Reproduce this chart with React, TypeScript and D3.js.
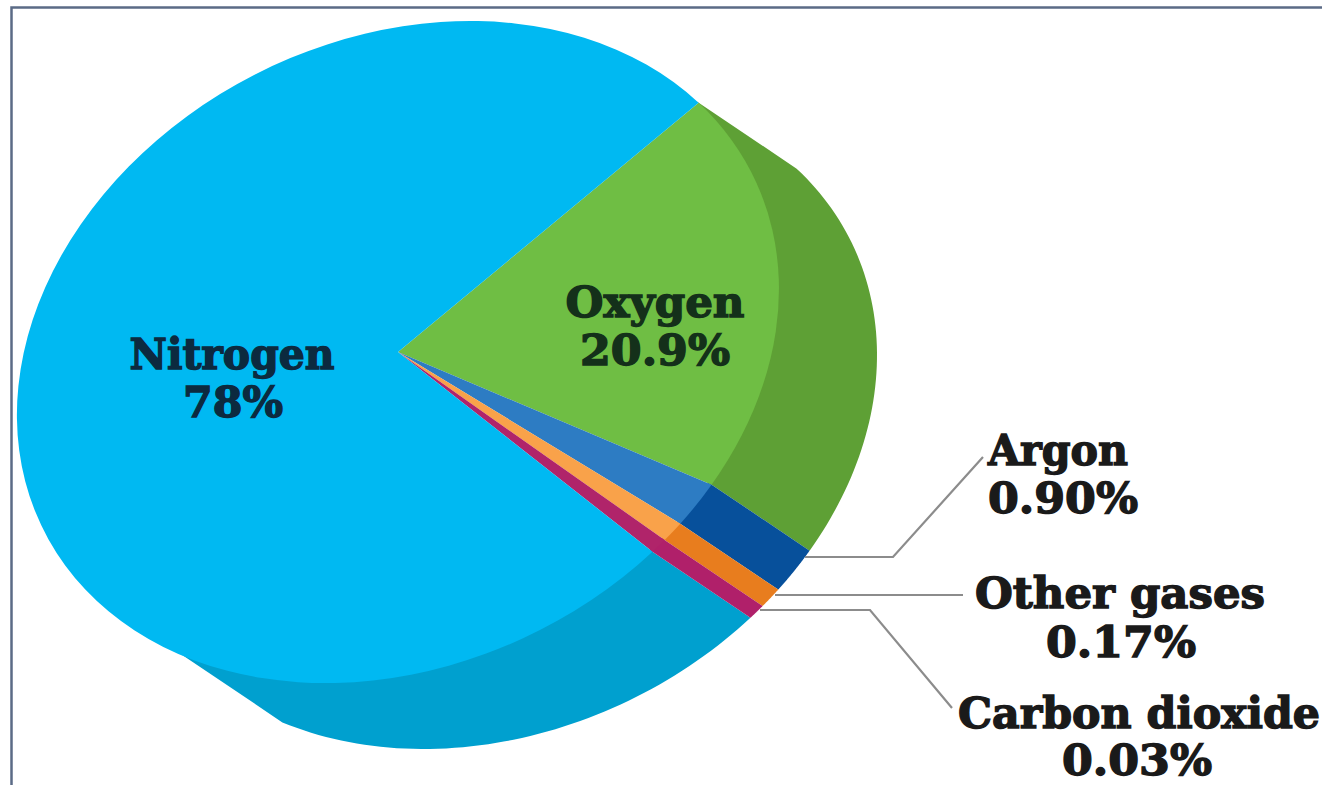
import { useMemo } from "react";
import * as d3 from "d3";

const WIDTH = 1322;
const HEIGHT = 785;

// centre of the top face, ellipse extents, and how far the slab is pushed down-right
const CENTER = { x: 398, y: 352 };
const EXTENT = { x: 381, y: 331, skew: -24000 };
const DEPTH = { x: 98, y: 66 };

const gases = ["Oxygen", "Argon", "Other gases", "Carbon dioxide", "Nitrogen"];
// the drawing is not to scale, these are the sweeps as measured off the picture (degrees)
const drawnSweeps = [72.5, 7.6, 3.4, 2.5, 274];
const START_ANGLE = 52.1;
// the nitrogen side only shows along the bottom, stop it where the slab leaves the face
const NITROGEN_SIDE_SWEEP = 76;

const topColors = ["#6fbe44", "#2d7cc3", "#f9a24a", "#b0246a", "#00b9f2"];
const sideColors = ["#5ea035", "#07509b", "#e87d1e", "#b0206a", "#00a0cf"];

const leaders = [
  [[805, 557], [893, 557], [983, 457]],
  [[775, 595], [963, 595]],
  [[760, 610], [870, 610], [952, 708]],
] as [number, number][][];

const labels = [
  { x: 232, y: 369, width: 205, text: "Nitrogen", fill: "#0c2a3f" },
  { x: 233, y: 417, width: 100, text: "78%", fill: "#0c2a3f" },
  { x: 655, y: 317, width: 179, text: "Oxygen", fill: "#14301a" },
  { x: 655, y: 365, width: 150, text: "20.9%", fill: "#14301a" },
  { x: 1058, y: 465, width: 140, text: "Argon", fill: "#1a1a1a" },
  { x: 1063, y: 513, width: 150, text: "0.90%", fill: "#1a1a1a" },
  { x: 1120, y: 608, width: 290, text: "Other gases", fill: "#1a1a1a" },
  { x: 1121, y: 657, width: 150, text: "0.17%", fill: "#1a1a1a" },
  { x: 1139, y: 728, width: 362, text: "Carbon dioxide", fill: "#1a1a1a" },
  { x: 1137, y: 775, width: 150, text: "0.03%", fill: "#1a1a1a" },
];

const toRad = (deg: number) => (deg * Math.PI) / 180;

export default function App() {
  const m21 = EXTENT.skew / EXTENT.x;
  const m22 = Math.sqrt(EXTENT.y * EXTENT.y - m21 * m21);

  const slices = useMemo(
    () =>
      d3
        .pie<number>()
        .sort(null)
        .value((d) => d)
        .startAngle(toRad(START_ANGLE))
        .endAngle(toRad(START_ANGLE + 360))(drawnSweeps),
    [],
  );

  const arc = d3.arc<d3.PieArcDatum<number>>().innerRadius(0).outerRadius(1);

  // point on the ellipse rim, angle clockwise from 12 o'clock like d3.arc
  const rim = (a: number): [number, number] => {
    const ux = Math.sin(a);
    const uy = -Math.cos(a);
    return [CENTER.x + EXTENT.x * ux, CENTER.y + m21 * ux + m22 * uy];
  };

  // the side band starts a little inside the rim so no white seam shows along the face
  const sidePath = (from: number, to: number) => {
    const angles = d3.range(0, 61).map((i) => from + ((to - from) * i) / 60);
    const rimPts = angles.map(rim);
    const front = rimPts.map(
      ([x, y]) => [x - DEPTH.x * 0.03, y - DEPTH.y * 0.03] as [number, number],
    );
    const back = rimPts.map(([x, y]) => [x + DEPTH.x, y + DEPTH.y] as [number, number]).reverse();
    return d3.line()([...front, ...back]) + "Z";
  };

  const faceTransform = `matrix(${EXTENT.x},${m21},0,${m22},${CENTER.x},${CENTER.y})`;

  // nitrogen side goes first so the small slices sit on top of it
  const sideOrder = [4, 0, 1, 2, 3];

  return (
    <svg
      width={WIDTH}
      height={HEIGHT}
      style={{ position: "absolute", left: 0, top: 0, display: "block", background: "#fff" }}
    >
      <path d={`M11.5,${HEIGHT}V7.5H${WIDTH}`} fill="none" stroke="#5b6b86" strokeWidth={2.5} />

      <g>
        {sideOrder.map((i) => {
          const s = slices[i];
          const end = i === 4 ? s.startAngle + toRad(NITROGEN_SIDE_SWEEP) : s.endAngle;
          return <path key={gases[i]} d={sidePath(s.startAngle, end)} fill={sideColors[i]} />;
        })}
      </g>

      <g>
        {slices.map((s, i) => (
          <path key={gases[i]} d={arc(s) ?? ""} transform={faceTransform} fill={topColors[i]} />
        ))}
      </g>

      <g fill="none" stroke="#8c8c8c" strokeWidth={2.2}>
        {leaders.map((pts, i) => (
          <path key={i} d={d3.line()(pts) ?? ""} />
        ))}
      </g>

      <g fontFamily="'DejaVu Serif'" fontWeight={700} fontSize={42} textAnchor="middle">
        {labels.map((l) => (
          <text
            key={l.text}
            x={l.x}
            y={l.y}
            fill={l.fill}
            stroke={l.fill}
            strokeWidth={1.4}
            textLength={l.width}
            lengthAdjust="spacingAndGlyphs"
          >
            {l.text}
          </text>
        ))}
      </g>
    </svg>
  );
}
